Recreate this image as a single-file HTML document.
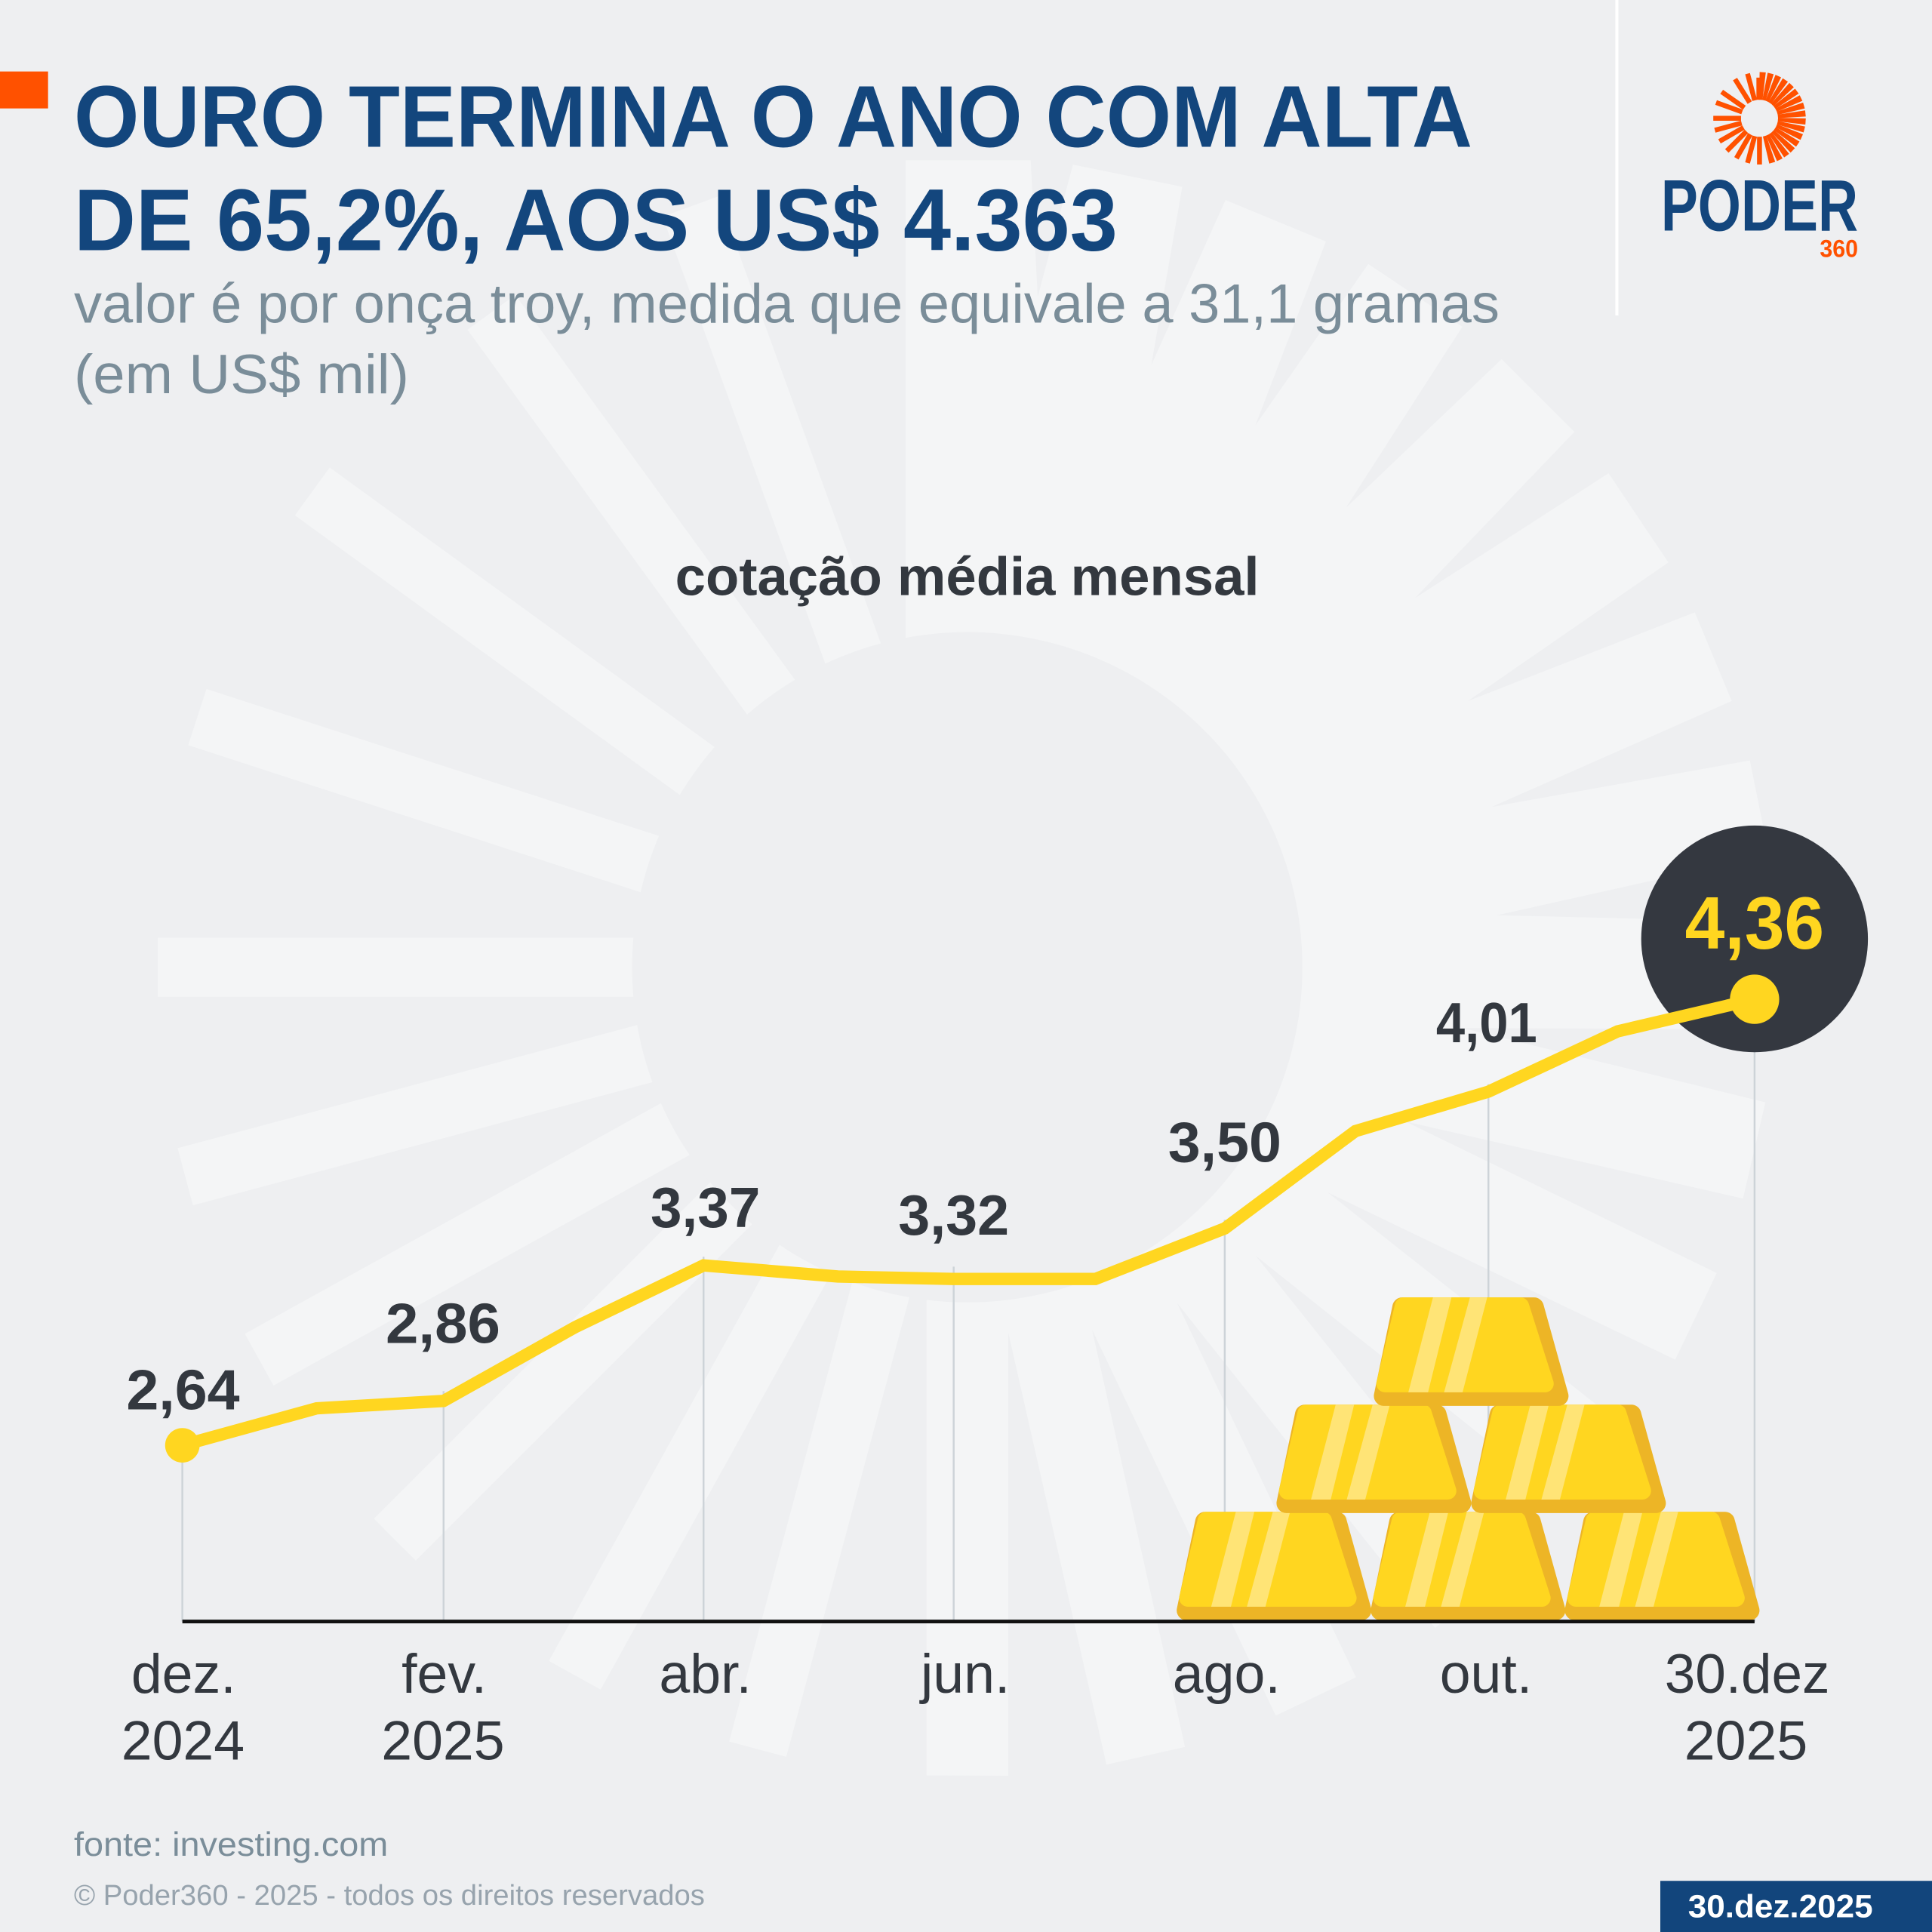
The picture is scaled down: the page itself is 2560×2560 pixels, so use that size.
<!DOCTYPE html>
<html>
<head>
<meta charset="utf-8">
<style>
html,body{margin:0;padding:0;background:#EEEFF1;}
svg{display:block;}
</style>
</head>
<body>
<svg width="2560" height="2560" viewBox="0 0 1568 1568" xmlns="http://www.w3.org/2000/svg" font-family="'Liberation Sans', Arial, sans-serif">
  <defs>
    <g id="bar">
      <polygon points="23,8 130,8 150,80 8,80" fill="#EDB526" stroke="#EDB526" stroke-width="16" stroke-linejoin="round"/>
      <polygon points="24,7 119,7 139,70 9,70" fill="#FFD620" stroke="#FFD620" stroke-width="14" stroke-linejoin="round"/>
      <polygon points="48,0 63,0 44,77 28,77" fill="#FFE476"/>
      <polygon points="78,0 92,0 72,77 57,77" fill="#FFE476"/>
    </g>
    <rect id="bb" x="200" y="-24" width="457" height="48"/>
    <path id="lw" d="M15,-1.4 L37.5,-2.5 L37.5,2.5 L15,1.4 Z"/>
    <rect id="lb" x="15" y="-2" width="22.5" height="4"/>
  </defs>

  <rect x="0" y="0" width="1568" height="1568" fill="#EEEFF1"/>

  <!-- background sunburst -->
  <g fill="#F4F5F6">
    <g transform="translate(785 785)">
      <use href="#bb" transform="rotate(105)"/>
      <use href="#bb" transform="rotate(119)"/>
      <use href="#bb" transform="rotate(135)"/>
      <use href="#bb" transform="rotate(151)"/>
      <use href="#bb" transform="rotate(165)"/>
      <use href="#bb" transform="rotate(180)"/>
      <use href="#bb" transform="rotate(198)"/>
      <use href="#bb" transform="rotate(216)"/>
      <use href="#bb" transform="rotate(234)"/>
      <use href="#bb" transform="rotate(250)"/>
    </g>
    <polygon points="785,785 735,518 735,130 836.5,130 842.2,241 870.8,133.6 959.5,151.6 934.4,296.3 994.6,162.3 1076.1,196 1018.8,345.3 1110.5,214.3 1186.8,265.2 1092.2,412.3 1218.7,291.5 1277.8,350.5 1148.4,485.4 1305.5,384.1 1354,456.5 1191.2,569 1375.5,497 1405.5,568.9 1210.6,654.9 1420.2,617.2 1435.6,693.6 1214.9,742.8 1441,748.3 1440.1,835.4 1187,834.4 1432.8,894.6 1414.6,972.7 1140.6,910.2 1393.3,1033.2 1359.6,1103.5 1077.6,967.8 1323.2,1161.8 1274.8,1222.9 1019.1,1019.1 1222.9,1274.8 1164.7,1321.2 955.1,1057.2 1100.5,1361.3 1035.4,1392.4 886.3,1079.1 961.7,1417.8 898,1432.2 818.2,1081.1 818.2,1441.2 752,1441 752,1055"/>
  </g>
  <circle cx="785" cy="785" r="272" fill="#EEEFF1"/>

  <!-- header -->
  <rect x="0" y="58" width="39" height="30" fill="#FF5100"/>
  <text x="60" y="119" font-size="71" font-weight="bold" fill="#13467D" textLength="1135" lengthAdjust="spacingAndGlyphs">OURO TERMINA O ANO COM ALTA</text>
  <text x="60" y="203" font-size="71" font-weight="bold" fill="#13467D" textLength="847" lengthAdjust="spacingAndGlyphs">DE 65,2%, AOS US$ 4.363</text>
  <text x="60" y="262" font-size="45" fill="#7A8D99" textLength="1157" lengthAdjust="spacingAndGlyphs">valor é por onça troy, medida que equivale a 31,1 gramas</text>
  <text x="60" y="319" font-size="45" fill="#7A8D99" textLength="272" lengthAdjust="spacingAndGlyphs">(em US$ mil)</text>

  <!-- divider -->
  <rect x="1311" y="0" width="2.5" height="256" fill="#FFFFFF"/>

  <!-- logo -->
  <g transform="translate(1428 96)" fill="#FF5100">
    <use href="#lb" transform="rotate(90)"/>
    <use href="#lb" transform="rotate(105)"/>
    <use href="#lb" transform="rotate(120)"/>
    <use href="#lb" transform="rotate(135)"/>
    <use href="#lb" transform="rotate(150)"/>
    <use href="#lb" transform="rotate(165)"/>
    <use href="#lb" transform="rotate(180)"/>
    <use href="#lb" transform="rotate(200)"/>
    <use href="#lb" transform="rotate(215)"/>
    <use href="#lb" transform="rotate(238)"/>
    <use href="#lb" transform="rotate(255)"/>
    <use href="#lw" transform="rotate(-86)"/>
    <use href="#lw" transform="rotate(-76)"/>
    <use href="#lw" transform="rotate(-66)"/>
    <use href="#lw" transform="rotate(-56)"/>
    <use href="#lw" transform="rotate(-46)"/>
    <use href="#lw" transform="rotate(-36)"/>
    <use href="#lw" transform="rotate(-26)"/>
    <use href="#lw" transform="rotate(-16)"/>
    <use href="#lw" transform="rotate(-6)"/>
    <use href="#lw" transform="rotate(4)"/>
    <use href="#lw" transform="rotate(14)"/>
    <use href="#lw" transform="rotate(24)"/>
    <use href="#lw" transform="rotate(34)"/>
    <use href="#lw" transform="rotate(44)"/>
    <use href="#lw" transform="rotate(54)"/>
    <use href="#lw" transform="rotate(64)"/>
    <use href="#lw" transform="rotate(74)"/>
  </g>
  <rect x="1425.5" y="63" width="3" height="18" fill="#FF5100"/>
  <text x="1348" y="187" font-size="59" font-weight="bold" fill="#13467D" textLength="160" lengthAdjust="spacingAndGlyphs">PODER</text>
  <text x="1477" y="208.7" font-size="20" font-weight="bold" fill="#FF5100" textLength="31" lengthAdjust="spacingAndGlyphs">360</text>

  <!-- chart title -->
  <text x="785" y="483" font-size="44" font-weight="bold" fill="#33383F" text-anchor="middle" textLength="474" lengthAdjust="spacingAndGlyphs">cotação média mensal</text>

  <!-- gridlines -->
  <g stroke="#CDD3D8" stroke-width="1.5">
    <line x1="148" y1="1168" x2="148" y2="1316"/>
    <line x1="360" y1="1129" x2="360" y2="1316"/>
    <line x1="571" y1="1020" x2="571" y2="1316"/>
    <line x1="774" y1="1028" x2="774" y2="1316"/>
    <line x1="994" y1="990" x2="994" y2="1316"/>
    <line x1="1208" y1="880" x2="1208" y2="1316"/>
    <line x1="1424" y1="811" x2="1424" y2="1316"/>
  </g>

  <!-- gold bars -->
  <use href="#bar" x="955" y="1227"/>
  <use href="#bar" x="1112.5" y="1227"/>
  <use href="#bar" x="1270" y="1227"/>
  <use href="#bar" x="1036" y="1140"/>
  <use href="#bar" x="1194" y="1140"/>
  <use href="#bar" x="1115" y="1053"/>

  <!-- axis -->
  <line x1="148" y1="1316" x2="1424" y2="1316" stroke="#111111" stroke-width="3"/>

  <!-- bubble -->
  <circle cx="1424" cy="762" r="92" fill="#343840"/>

  <!-- series line -->
  <polyline points="148,1173 257,1143 360,1137 467,1077 571,1027 680,1036 774,1038 889,1038 994,997 1100,918 1208,886 1313,837 1424,811" fill="none" stroke="#FFD620" stroke-width="10" stroke-linejoin="miter" stroke-linecap="butt"/>
  <circle cx="148" cy="1173" r="14" fill="#FFD620"/>
  <circle cx="1424" cy="811" r="20" fill="#FFD620"/>

  <!-- data labels -->
  <g font-size="46" font-weight="bold" fill="#33383F" text-anchor="middle">
    <text x="148.5" y="1144" textLength="92" lengthAdjust="spacingAndGlyphs">2,64</text>
    <text x="359.5" y="1090" textLength="93" lengthAdjust="spacingAndGlyphs">2,86</text>
    <text x="572.5" y="996" textLength="89" lengthAdjust="spacingAndGlyphs">3,37</text>
    <text x="774" y="1002" textLength="90" lengthAdjust="spacingAndGlyphs">3,32</text>
    <text x="994" y="943" textLength="92" lengthAdjust="spacingAndGlyphs">3,50</text>
    <text x="1206.5" y="846" textLength="82" lengthAdjust="spacingAndGlyphs">4,01</text>
  </g>
  <text x="1424" y="770" font-size="60" font-weight="bold" fill="#FFD620" text-anchor="middle" textLength="113" lengthAdjust="spacingAndGlyphs">4,36</text>

  <!-- x labels -->
  <g font-size="45" fill="#33383F" text-anchor="middle">
    <text x="149" y="1374">dez.</text>
    <text x="148.5" y="1428">2024</text>
    <text x="360.5" y="1374">fev.</text>
    <text x="359.5" y="1428">2025</text>
    <text x="572.5" y="1374">abr.</text>
    <text x="783.5" y="1374">jun.</text>
    <text x="995.5" y="1374">ago.</text>
    <text x="1206" y="1374">out.</text>
    <text x="1418" y="1374" textLength="134" lengthAdjust="spacingAndGlyphs">30.dez</text>
    <text x="1417" y="1428">2025</text>
  </g>

  <!-- footer -->
  <text x="60" y="1506" font-size="27.5" fill="#7A8D99" textLength="255" lengthAdjust="spacingAndGlyphs">fonte: investing.com</text>
  <text x="60" y="1546" font-size="23.5" fill="#97A3AD" textLength="512" lengthAdjust="spacingAndGlyphs">© Poder360 - 2025 - todos os direitos reservados</text>

  <rect x="1347.5" y="1526.5" width="221" height="42" fill="#12457C"/>
  <text x="1370" y="1556" font-size="26" font-weight="bold" fill="#FFFFFF" textLength="150" lengthAdjust="spacingAndGlyphs">30.dez.2025</text>
</svg>
</body>
</html>
